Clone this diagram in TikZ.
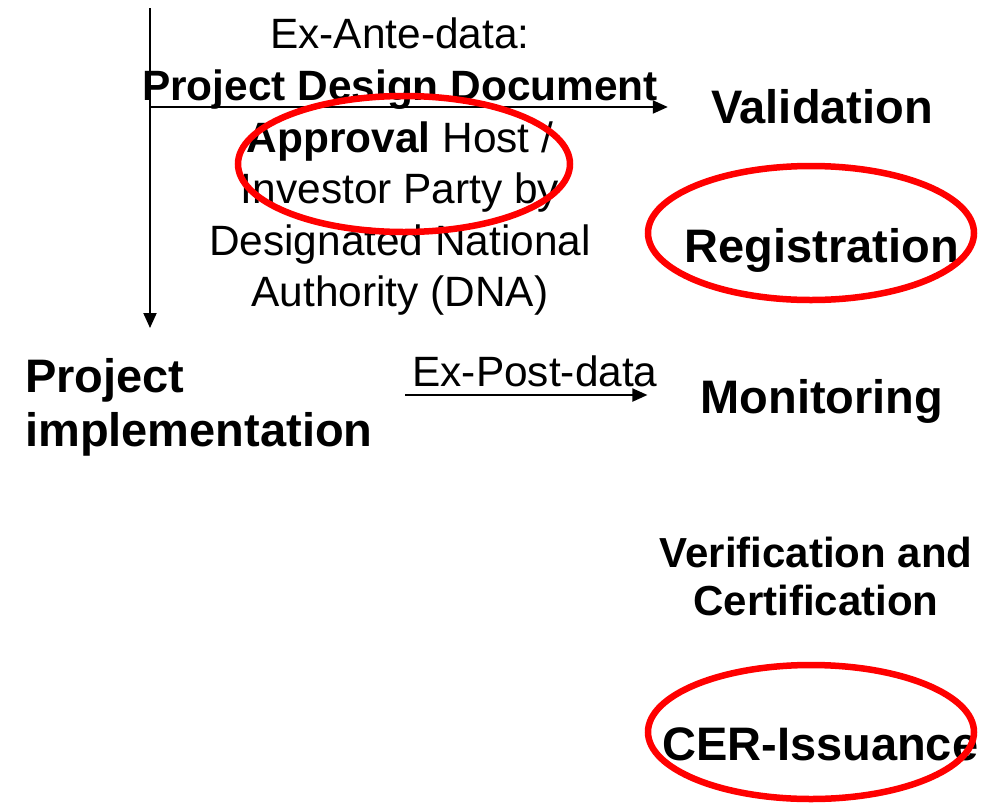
\documentclass[tikz,border=0pt]{standalone}
\usepackage{fontspec}
\setmainfont{Liberation Sans}
\usetikzlibrary{arrows.meta}
\tikzset{
    stage/.style={font=\fontsize{47}{54}\selectfont\bfseries, inner sep=0pt},
    datatext/.style={font=\fontsize{42.4}{51.6}\selectfont, align=center, inner sep=0pt},
    flow/.style={line width=2pt, -{Triangle[length=15pt,width=13pt]}},
    redring/.style={draw=red, line width=6.5pt},
}
\begin{document}
\begin{tikzpicture}[x=1pt,y=-1pt]
    \useasboundingbox (0,0) rectangle (994,804);
    \clip (0,0) rectangle (994,804);

    \node[datatext] (exante) at (400,167) {Ex-Ante-data:\\ \textbf{Project Design Document}\\ \textbf{Approval} Host /\\ Investor Party by\\ Designated National\\ Authority (DNA)};
    \node[stage, anchor=base] (valid) at (822,123) {Validation};
    \node[stage, anchor=base] (regis) at (822,262) {Registration};
    \node[stage, anchor=base] (monit) at (822,413) {Monitoring};
    \node[stage, font=\fontsize{42}{48}\selectfont\bfseries, align=center] (verif) at (816,576) {Verification and\\ Certification};
    \node[stage, anchor=base west] (issue) at (662,760) {CER-Issuance};
    \node[stage, align=left, anchor=west] (impl) at (25,407) {Project\\ implementation};
    \node[datatext, anchor=base] (expost) at (535,386) {Ex-Post-data};

    \coordinate (top) at (150,8);
    \coordinate (fork) at (150,107);
    \coordinate (down) at (150,328);
    \coordinate (post) at (405,395);
    \draw[flow] (top) -- (down);
    \draw[flow] (fork) -- ([xshift=-43pt]valid.west |- fork);
    \draw[flow] (post) -- ([xshift=-53pt]monit.west |- post);

    \draw[redring] (404,164) ellipse [x radius=166, y radius=68];
    \draw[redring] (811,233) ellipse [x radius=163, y radius=67];
    \draw[redring] (811,732) ellipse [x radius=163, y radius=67];
\end{tikzpicture}
\end{document}
